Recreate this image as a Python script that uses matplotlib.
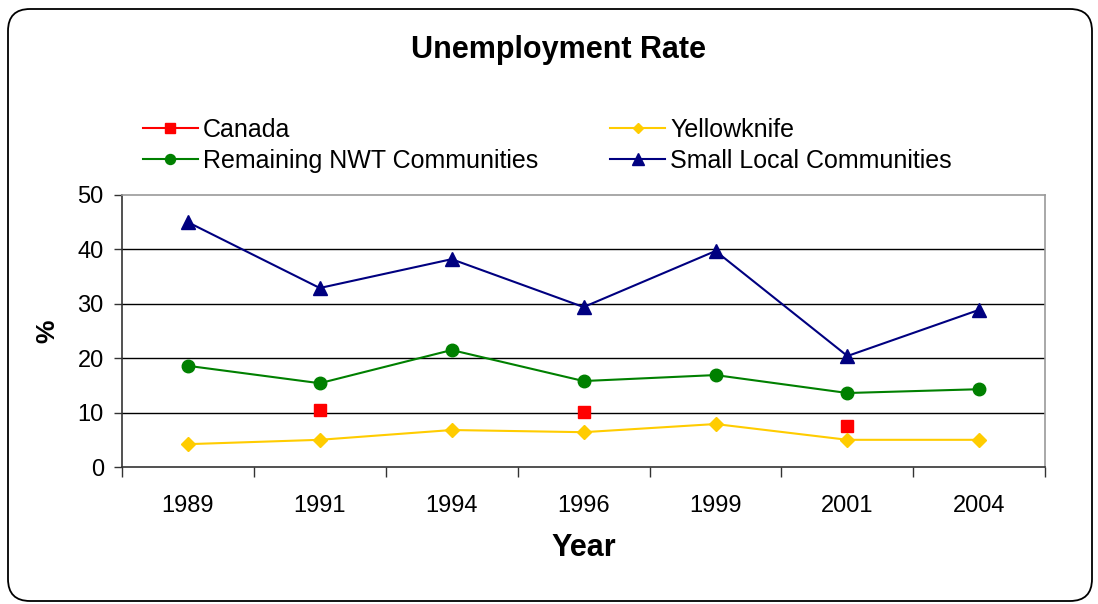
import numpy as np
import matplotlib
matplotlib.use('Agg')
import matplotlib.pyplot as plt
from matplotlib.patches import FancyBboxPatch
from matplotlib.transforms import IdentityTransform
from matplotlib.ticker import FixedLocator, NullFormatter

plt.rcParams['font.family'] = ['Liberation Sans', 'DejaVu Sans']

# Data
years = ['1989', '1991', '1994', '1996', '1999', '2001', '2004']
canada = [np.nan, 10.5, np.nan, 10.1, np.nan, 7.5, np.nan]
yellowknife = [4.2, 5.0, 6.8, 6.4, 7.9, 5.0, 5.0]
remaining_nwt = [18.6, 15.4, 21.5, 15.8, 16.9, 13.6, 14.3]
small_local = [45.0, 32.9, 38.2, 29.4, 39.7, 20.4, 28.9]

fig = plt.figure(figsize=(10.98, 6.04), dpi=100)
ax = fig.add_axes([0.111, 0.2268, 0.841, 0.4504])

x = np.arange(len(years))
l_can, = ax.plot(x, canada, color='#FF0000', marker='s', markersize=9, lw=1.5, label='Canada')
l_yk, = ax.plot(x, yellowknife, color='#FFCC00', marker='D', markersize=7, lw=1.5, label='Yellowknife')
l_nwt, = ax.plot(x, remaining_nwt, color='#008000', marker='o', markersize=9, lw=1.5,
                 label='Remaining NWT Communities')
l_sl, = ax.plot(x, small_local, color='#000080', marker='^', markersize=10, lw=1.5,
                label='Small Local Communities')

ax.set_xlim(-0.5, len(years) - 0.5)
ax.set_ylim(0, 50)
ax.set_yticks([0, 10, 20, 30, 40, 50])
for yv in [10, 20, 30, 40]:
    ax.axhline(yv, color='black', lw=1, zorder=0)

# category labels between tick marks, excel style
ax.set_xticks(x)
ax.set_xticklabels(years)
ax.tick_params(axis='x', which='major', length=0, pad=20, labelsize=17)
ax.xaxis.set_minor_locator(FixedLocator(np.arange(-0.5, len(years), 1.0)))
ax.xaxis.set_minor_formatter(NullFormatter())
ax.tick_params(axis='x', which='minor', length=7, width=1, color='#333333', direction='out')
ax.tick_params(axis='y', length=6, width=1, color='#333333', labelsize=17, pad=7)

for s in ['top', 'right']:
    ax.spines[s].set_color('#999999')
    ax.spines[s].set_linewidth(1.2)
for s in ['left', 'bottom']:
    ax.spines[s].set_color('#333333')
    ax.spines[s].set_linewidth(1.2)

ax.set_xlabel('Year', fontsize=22, fontweight='bold', labelpad=12)
ax.set_ylabel('%', fontsize=19, fontweight='bold', labelpad=13)

fig.text(0.5085, 0.917, 'Unemployment Rate', ha='center', va='center', fontsize=22, fontweight='bold')

fig.legend([l_can, l_nwt, l_yk, l_sl],
           ['Canada', 'Remaining NWT Communities', 'Yellowknife', 'Small Local Communities'],
           ncol=2, loc='upper left', bbox_to_anchor=(0.130, 0.805), frameon=False,
           fontsize=18, handlelength=2.2, handletextpad=0.2, columnspacing=2.9,
           labelspacing=0.28, markerscale=0.8, borderaxespad=0, borderpad=0)

border = FancyBboxPatch((8, 3), 1084, 592, boxstyle='round,pad=0,rounding_size=22',
                        transform=IdentityTransform(), facecolor='none', edgecolor='black', lw=1.3)
fig.patches.append(border)

fig.savefig('out.png', dpi=100)
